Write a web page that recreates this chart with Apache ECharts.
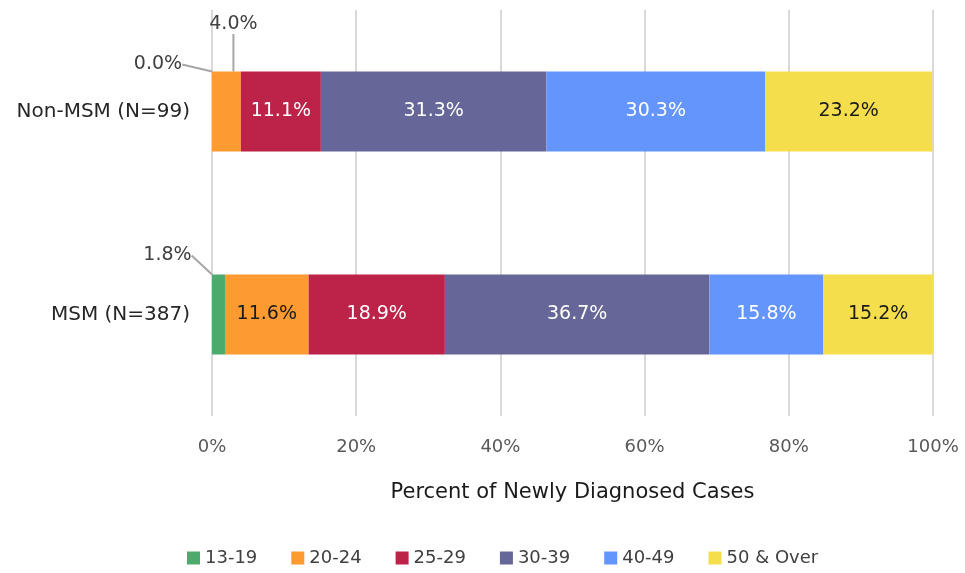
<!DOCTYPE html>
<html>
<head>
<meta charset="utf-8">
<script src="https://cdn.jsdelivr.net/npm/echarts@6/dist/echarts.min.js"></script>
<style>
  html, body { margin: 0; padding: 0; background: #fff; }
  #char { width: 965px; height: 573px; }
</style>
</head>
<body>
<div id="char"></div>
<script>
var categories = ['MSM (N=387)', 'Non-MSM (N=99)'];
var groups = ['13-19', '20-24', '25-29', '30-39', '40-49', '50 & Over'];
// one array per age group: [MSM, Non-MSM]
var v1319 = [1.8, 0.0];
var v2024 = [11.6, 4.0];
var v2529 = [18.9, 11.1];
var v3039 = [36.7, 31.3];
var v4049 = [15.8, 30.3];
var v50 = [15.2, 23.2];
var xTicks = [0, 20, 40, 60, 80, 100];

var values = [v1319, v2024, v2529, v3039, v4049, v50];
var colors = ['#4caa6d', '#fd9a32', '#bd2348', '#666699', '#6495fd', '#f5de4c'];
var textColors = ['#fff', '#1a1a1a', '#fff', '#fff', '#fff', '#1a1a1a'];
var font = 'DejaVu Sans';

// labels that sit outside the bar with a leader line
var outside = {
    '0-0': { dx: -51, dy: -59 },   // 13-19 MSM
    '0-1': { dx: -54, dy: -47 },   // 13-19 Non-MSM
    '1-1': { dx: 7, dy: -87 }      // 20-24 Non-MSM
};

var myChart = echarts.init(document.getElementById('char'));

var series = groups.map(function (g, i) {
    return {
        name: g,
        type: 'bar',
        stack: 'total',
        barWidth: 80,
        itemStyle: { color: colors[i] },
        data: values[i].map(function (v, j) {
            var d = { value: v };
            if (outside[i + '-' + j]) {
                d.label = { show: true, position: 'inside', color: '#404040' };
                d.labelLine = { show: true, lineStyle: { color: '#a6a6a6', width: 2 } };
            }
            return d;
        }),
        label: {
            show: true,
            position: 'inside',
            color: textColors[i],
            fontSize: 19,
            fontFamily: font,
            formatter: function (p) { return p.value.toFixed(1) + '%'; }
        },
        labelLayout: function (p) {
            var o = outside[p.seriesIndex + '-' + p.dataIndex];
            if (o) return { dx: o.dx, dy: o.dy };
            return {};
        }
    };
});

var option = {
    animation: false,
    color: colors,
    grid: { left: 212, right: 32, top: 10, bottom: 157 },
    legend: {
        bottom: 1,
        left: 182,
        itemWidth: 13,
        itemHeight: 13,
        itemGap: 34,
        icon: 'rect',
        textStyle: { color: '#404040', fontSize: 18, fontFamily: font },
        data: groups
    },
    xAxis: {
        type: 'value',
        min: 0,
        max: 100,
        interval: 20,
        name: 'Percent of Newly Diagnosed Cases',
        nameLocation: 'middle',
        nameGap: 66,
        nameTextStyle: { color: '#1a1a1a', fontSize: 21, fontFamily: font },
        axisLine: { show: false },
        axisTick: { show: false },
        axisLabel: {
            color: '#595959',
            fontSize: 18,
            fontFamily: font,
            margin: 22,
            formatter: function (v) { return xTicks.indexOf(v) >= 0 ? v + '%' : ''; }
        },
        splitLine: { lineStyle: { color: '#d9d9d9', width: 2 } }
    },
    yAxis: {
        type: 'category',
        data: categories,
        axisLine: { show: false },
        axisTick: { show: false },
        axisLabel: { color: '#262626', fontSize: 20, fontFamily: font, margin: 22 }
    },
    series: series
};

myChart.setOption(option);
window.addEventListener('resize', function () { myChart.resize(); });
</script>
</body>
</html>
